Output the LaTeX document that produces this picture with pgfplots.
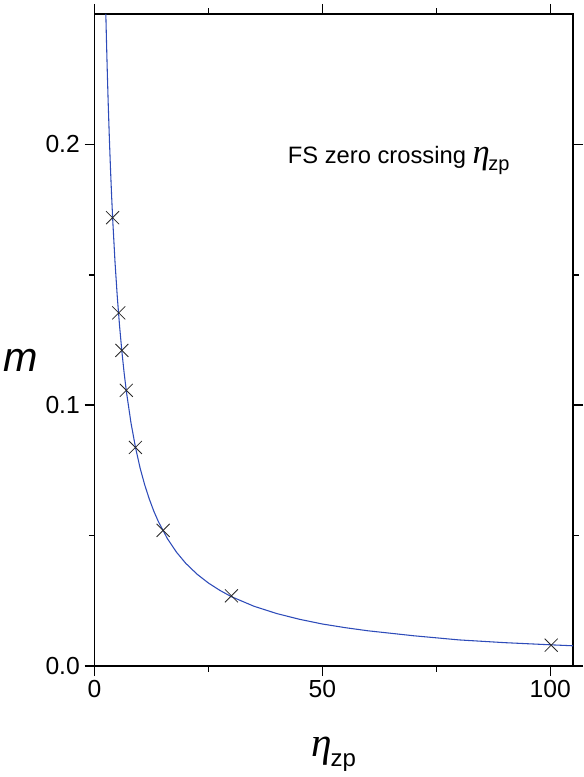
\documentclass[border=0pt]{standalone}
\usepackage{fontspec}
\setmainfont{Liberation Sans}
\newfontfamily\grk{Liberation Serif}
\usepackage{pgfplots}
\pgfplotsset{compat=1.18}

\definecolor{curveblue}{RGB}{45,75,185}
\definecolor{markgray}{RGB}{40,40,40}

% m versus the zero crossing
\pgfplotstableread{
eta     m
3.96    0.1719
5.32    0.1354
6.0     0.1210
6.97    0.1057
8.97    0.0838
15.05   0.0520
30.04   0.0269
100.2   0.0080
}\crossings

% fitted curve, sampled along the drawn line
\pgfplotstableread{
eta     m
2.48    0.2500
2.6     0.2412
2.8     0.2278
3.0     0.2158
3.25    0.2025
3.5     0.1907
3.75    0.1802
4.0     0.1708
4.5     0.1547
5.0     0.1414
5.5     0.1302
6.0     0.1206
6.5     0.1123
7.0     0.1051
8.0     0.0932
9.0     0.0837
10.0    0.0759
11.0    0.0695
12.0    0.0641
13.0    0.0594
14.0    0.0554
16.0    0.0488
18.0    0.0436
20.0    0.0394
22.5    0.0352
25.0    0.0318
27.5    0.0290
30.0    0.0266
35.0    0.0229
40.0    0.0201
45.0    0.0179
50.0    0.0161
55.0    0.0147
60.0    0.0135
70.0    0.0116
80.0    0.0100
90.0    0.00895
100.0   0.00813
105.0   0.00775
}\fitcurve

\begin{document}
\begin{tikzpicture}
\useasboundingbox (-70.9pt,-83.25pt) rectangle (367.1pt,499.5pt);
\begin{axis}[
    at={(0,0)}, anchor=south west,
    scale only axis, width=358.9pt, height=489pt,
    xmin=0, xmax=105, ymin=0, ymax=0.25,
    xtick={0,50,100}, ytick={0,0.1,0.2},
    minor x tick num=1, minor y tick num=1,
    tick align=outside,
    major tick length=7.5pt, minor tick length=4.3pt,
    axis line style={line width=1.2pt},
    tick style={line width=1.1pt, black},
    /pgf/number format/assume math mode=true,
    tick label style={font=\fontsize{18.5}{21}\selectfont},
    yticklabel style={/pgf/number format/.cd, fixed, fixed zerofill, precision=1},
    xlabel={{\fontsize{31}{34}\selectfont\grk\itshape η}\kern-1pt\raisebox{-7pt}{\fontsize{18}{20}\selectfont zp}},
    xlabel style={at={(rel axis cs:0.5,0)}, anchor=base, yshift=-68pt},
    ylabel={\fontsize{31}{34}\selectfont\itshape m},
    ylabel style={rotate=-90, at={(rel axis cs:0,0.468)}, anchor=center, xshift=-55.5pt},
    clip=true,
]
\addplot[curveblue, line width=0.8pt, no marks] table[x=eta, y=m] {\fitcurve};
\addplot[only marks, mark=x, mark size=6.9pt, mark options={markgray, line width=0.6pt}] table[x=eta, y=m] {\crossings};
\node[anchor=base west, font=\fontsize{17.8}{20}\selectfont] at (axis cs:41.4,0.1927)
    {FS zero crossing {\fontsize{26}{28}\selectfont\grk\itshape η}\kern-1pt\raisebox{-5pt}{\fontsize{15}{16}\selectfont zp}};
\end{axis}
\end{tikzpicture}
\end{document}
